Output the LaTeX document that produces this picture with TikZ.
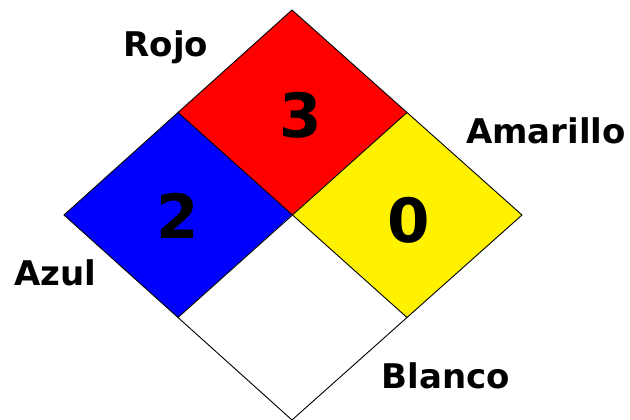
\documentclass[tikz,border=0pt]{standalone}
\usepackage{fontspec}
\setmainfont{DejaVu Sans}
\begin{document}
\begin{tikzpicture}[x=1pt,y=-1pt,
  quad/.style={draw=black,line width=0.9pt,line join=miter},
  lbl/.style={font=\fontsize{34}{34}\selectfont\bfseries,anchor=base,inner sep=0pt},
  num/.style={font=\fontsize{61}{61}\selectfont\bfseries,anchor=base,inner sep=0pt}]
\useasboundingbox (0,0) rectangle (630,420);
\coordinate (T) at (292,10);
\coordinate (L) at (64,215);
\coordinate (R) at (522,215);
\coordinate (B) at (292,420);
\coordinate (C) at (292,215);
\coordinate (TL) at (178,112.5);
\coordinate (TR) at (407,112.5);
\coordinate (BL) at (178,317.5);
\coordinate (BR) at (407,317.5);
\fill[red] (T) -- (TR) -- (C) -- (TL) -- cycle;
\fill[blue] (TL) -- (C) -- (BL) -- (L) -- cycle;
\fill[yellow] (TR) -- (R) -- (BR) -- (C) -- cycle;
\fill[white] (C) -- (BR) -- (B) -- (BL) -- cycle;
\draw[quad] (T) -- (R) -- (B) -- (L) -- cycle;
\draw[quad] (TL) -- (BR);
\draw[quad] (TR) -- (BL);
\node[num] (n3) at (301,137) {3};
\node[num] (n2) at (178,238) {2};
\node[num] (n0) at (409,242) {0};
\node[lbl] (rojo) at (166,57) {Rojo};
\node[lbl] (amarillo) at (546,143) {Amarillo};
\node[lbl] (azul) at (55,285) {Azul};
\node[lbl] (blanco) at (446,388) {Blanco};
\end{tikzpicture}
\end{document}
